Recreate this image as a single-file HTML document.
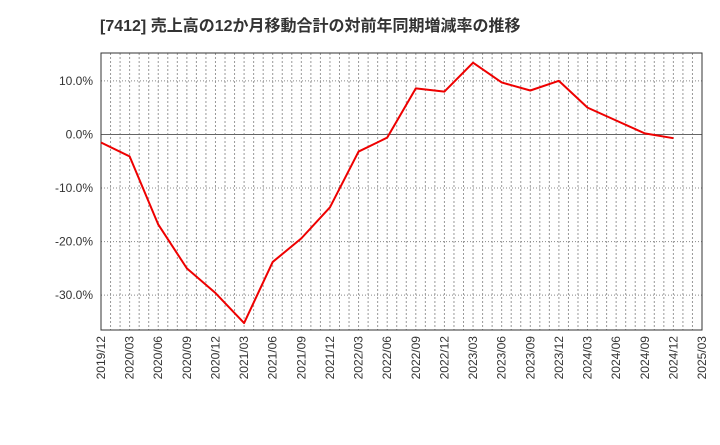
<!DOCTYPE html>
<html><head><meta charset="utf-8">
<style>
body{margin:0;background:#fff;width:720px;height:440px;overflow:hidden;font-family:"Liberation Sans","Noto Sans CJK JP",sans-serif;}
</style></head>
<body>
<svg id="chart" width="720" height="440" xmlns="http://www.w3.org/2000/svg">
<text x="100" y="31" font-size="16" font-weight="bold" fill="#333" font-family="Liberation Sans, Noto Sans CJK JP, sans-serif">[7412]  売上高の12か月移動合計の対前年同期増減率の推移</text>
<g id="grid"></g><g id="axes"></g><g id="series"></g>
</svg>
<script>
const categories=["2019/12","2020/03","2020/06","2020/09","2020/12","2021/03","2021/06","2021/09","2021/12","2022/03","2022/06","2022/09","2022/12","2023/03","2023/06","2023/09","2023/12","2024/03","2024/06","2024/09","2024/12","2025/03"];
const values=[-1.5,-4.1,-16.8,-25.0,-29.6,-35.2,-23.8,-19.4,-13.6,-3.2,-0.6,8.6,8.0,13.4,9.7,8.2,10.0,5.0,2.6,0.2,-0.7];
const yTicks=[10,0,-10,-20,-30];
const yTickLabels=["10.0%","0.0%","-10.0%","-20.0%","-30.0%"];
const L=101,R=702,T=53,B=330;
const yMin=-36.5,yMax=15.2;
const x=i=>L+(R-L)*i/(categories.length-1);
const y=v=>T+(yMax-v)/(yMax-yMin)*(B-T);
const NS="http://www.w3.org/2000/svg";
function mk(tag,attrs,parent){const e=document.createElementNS(NS,tag);for(const k in attrs)e.setAttribute(k,attrs[k]);parent.appendChild(e);return e;}
const grid=document.getElementById('grid'),axes=document.getElementById('axes'),series=document.getElementById('series');
const bg=mk('rect',{x:L,y:T,width:R-L,height:B-T,fill:'#fff'},grid);


const nMonths=(categories.length-1)*3;
for(let m=1;m<nMonths;m++){
  const xm=L+(R-L)*m/nMonths;
  const g=mk('line',{x1:xm,x2:xm,y1:T,y2:B,stroke:'#999','stroke-dasharray':'2,2','stroke-width':1},grid);
  
  
}
categories.forEach((c,i)=>{
  const t=mk('text',{x:0,y:0,'font-size':12,fill:'#333','text-anchor':'end',transform:`translate(${x(i)+4},${B+6}) rotate(-90)`},axes);
  t.textContent=c;
  
  
});
yTicks.forEach((v,i)=>{
  const g=mk('line',{x1:L,x2:R,y1:y(v),y2:y(v),stroke:v===0?'#666':'#888','stroke-dasharray':v===0?'none':'1,2','stroke-width':1},grid);
  
  
  const t=mk('text',{x:L-8,y:y(v)+4,'font-size':12,fill:'#333','text-anchor':'end'},axes);
  t.textContent=yTickLabels[i];
  
  
});
const frame=mk('rect',{x:L,y:T,width:R-L,height:B-T,fill:'none',stroke:'#333','stroke-width':1},grid);


const line=mk('polyline',{points:values.map((v,i)=>x(i)+','+y(v)).join(' '),fill:'none',stroke:'#e00','stroke-width':2,'stroke-linejoin':'round'},series);


</script>
</body></html>
